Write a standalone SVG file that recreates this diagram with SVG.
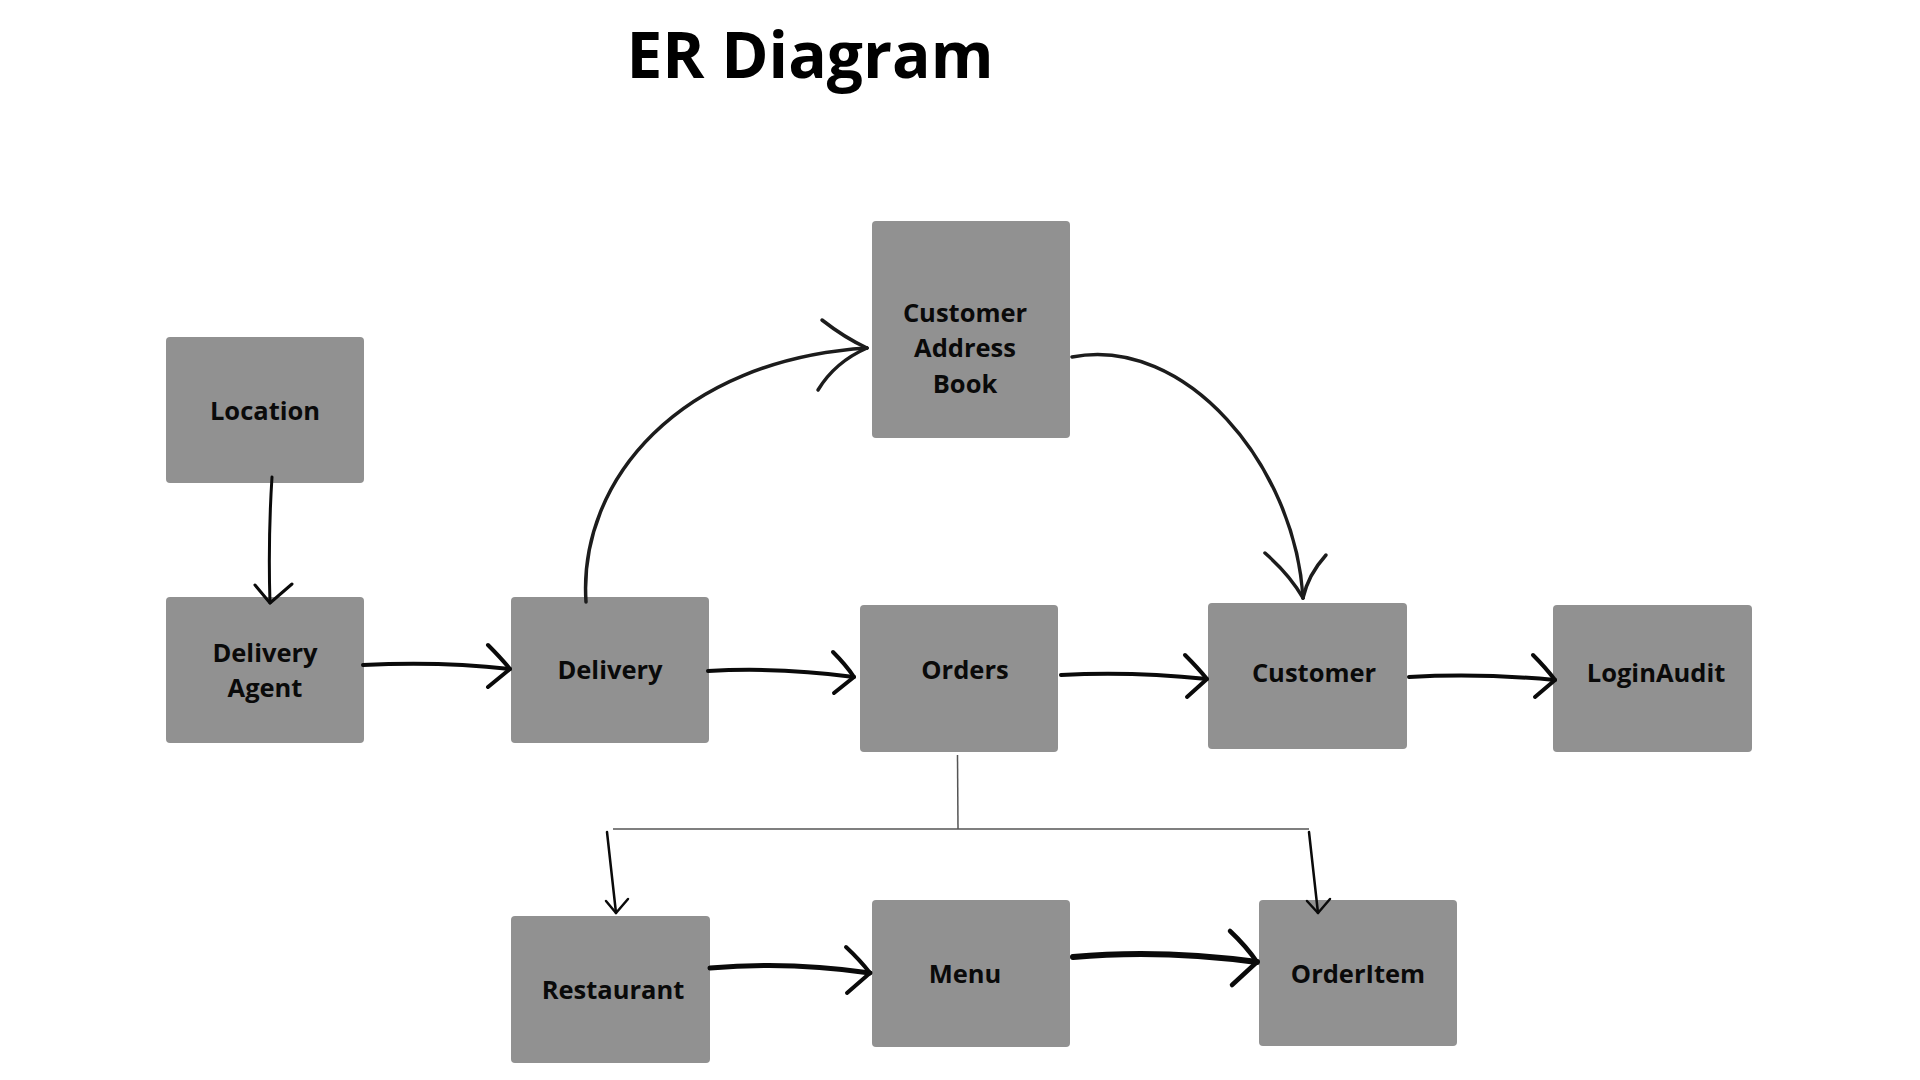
<svg xmlns="http://www.w3.org/2000/svg" width="1920" height="1080" viewBox="0 0 1920 1080">
<style>
.bg{fill:#ffffff}
.box{fill:#919191}
.lbl{font-family:"Open Sans","Noto Sans","Liberation Sans",sans-serif;font-weight:700;font-size:25.5px;fill:#0a0a0a;text-anchor:middle}
.title{font-family:"Open Sans","Noto Sans","Liberation Sans",sans-serif;font-weight:700;font-size:64px;fill:#000;text-anchor:middle}
.ink{fill:none;stroke:#0a0a0a;stroke-linecap:round;stroke-linejoin:round}
.curve{fill:none;stroke:#1c1c1c;stroke-width:3.5;stroke-linecap:round;stroke-linejoin:round}
.thin{fill:none;stroke:#555;stroke-width:1.5}
</style>
<rect class="bg" x="0" y="0" width="1920" height="1080"/>
<text class="title" x="810" y="78">ER Diagram</text>

<g id="node-location">
  <rect class="box" x="166" y="337" width="198" height="146" rx="4"/>
  <text class="lbl" x="265" y="420">Location</text>
</g>
<g id="node-delivery-agent">
  <rect class="box" x="166" y="597" width="198" height="146" rx="4"/>
  <text class="lbl" x="265" y="662">Delivery</text>
  <text class="lbl" x="265" y="697">Agent</text>
</g>
<g id="node-delivery">
  <rect class="box" x="511" y="597" width="198" height="146" rx="4"/>
  <text class="lbl" x="610" y="679">Delivery</text>
</g>
<g id="node-customer-address-book">
  <rect class="box" x="872" y="221" width="198" height="217" rx="4"/>
  <text class="lbl" x="965" y="322">Customer</text>
  <text class="lbl" x="965" y="357">Address</text>
  <text class="lbl" x="965" y="393">Book</text>
</g>
<g id="node-orders">
  <rect class="box" x="860" y="605" width="198" height="147" rx="4"/>
  <text class="lbl" x="965" y="679">Orders</text>
</g>
<g id="node-customer">
  <rect class="box" x="1208" y="603" width="199" height="146" rx="4"/>
  <text class="lbl" x="1314" y="682">Customer</text>
</g>
<g id="node-loginaudit">
  <rect class="box" x="1553" y="605" width="199" height="147" rx="4"/>
  <text class="lbl" x="1656" y="682">LoginAudit</text>
</g>
<g id="node-restaurant">
  <rect class="box" x="511" y="916" width="199" height="147" rx="4"/>
  <text class="lbl" x="613" y="999">Restaurant</text>
</g>
<g id="node-menu">
  <rect class="box" x="872" y="900" width="198" height="147" rx="4"/>
  <text class="lbl" x="965" y="983">Menu</text>
</g>
<g id="node-orderitem">
  <rect class="box" x="1259" y="900" width="198" height="146" rx="4"/>
  <text class="lbl" x="1358" y="983">OrderItem</text>
</g>

<g id="connectors">
  <!-- Location -> Delivery Agent -->
  <path class="ink" stroke-width="3" d="M272,477 Q268,540 270,603"/>
  <path class="ink" stroke-width="3" d="M255,585 L270,603 L292,584"/>
  <!-- Delivery Agent -> Delivery -->
  <path class="ink" stroke-width="4" d="M363,665 Q440,661 510,669"/>
  <path class="ink" stroke-width="4" d="M488,645 Q501,658 510,669 L488,687"/>
  <!-- Delivery -> Orders -->
  <path class="ink" stroke-width="4" d="M708,671 Q780,667 854,677"/>
  <path class="ink" stroke-width="4" d="M833,652 Q846,665 854,677 L834,693"/>
  <!-- Orders -> Customer -->
  <path class="ink" stroke-width="4" d="M1061,675 Q1130,671 1207,679"/>
  <path class="ink" stroke-width="4" d="M1185,655 Q1198,668 1207,679 L1187,697"/>
  <!-- Customer -> LoginAudit -->
  <path class="ink" stroke-width="4" d="M1409,677 Q1480,673 1555,680"/>
  <path class="ink" stroke-width="4" d="M1533,655 Q1546,668 1555,680 L1535,697"/>
  <!-- Delivery -> Customer Address Book (curved) -->
  <path class="curve" d="M586,602 C578,480 680,360 867,348"/>
  <path class="curve" d="M822,320 Q845,338 867,348"/>
  <path class="curve" stroke-width="1.8" d="M867,348 Q835,362 818,390"/>
  <!-- Customer Address Book -> Customer (curved) -->
  <path class="curve" d="M1072,357 C1185,335 1295,465 1303,598"/>
  <path class="curve" stroke-width="1.8" d="M1265,553 Q1290,575 1303,598"/>
  <path class="curve" d="M1326,555 Q1308,575 1303,598"/>
  <!-- Orders branch -->
  <path class="thin" d="M957.5,755 L958,829"/>
  <path class="thin" d="M613,829 L1309,829"/>
  <path class="ink" stroke-width="2.5" d="M607,832 L616,913"/>
  <path class="ink" stroke-width="2.5" d="M606,901 L616,913 L628,899"/>
  <path class="ink" stroke-width="2.5" d="M1309,832 L1318,913"/>
  <path class="ink" stroke-width="2.5" d="M1307,901 L1318,913 L1330,899"/>
  <!-- Restaurant -> Menu -->
  <path class="ink" stroke-width="5" d="M710,968 Q790,961 870,973"/>
  <path class="ink" stroke-width="4" d="M846,947 Q860,960 870,973 L847,993"/>
  <!-- Menu -> OrderItem -->
  <path class="ink" stroke-width="6" d="M1073,957 Q1160,949 1257,962"/>
  <path class="ink" stroke-width="4.5" d="M1230,931 Q1246,946 1257,962 L1232,985"/>
</g>
</svg>
